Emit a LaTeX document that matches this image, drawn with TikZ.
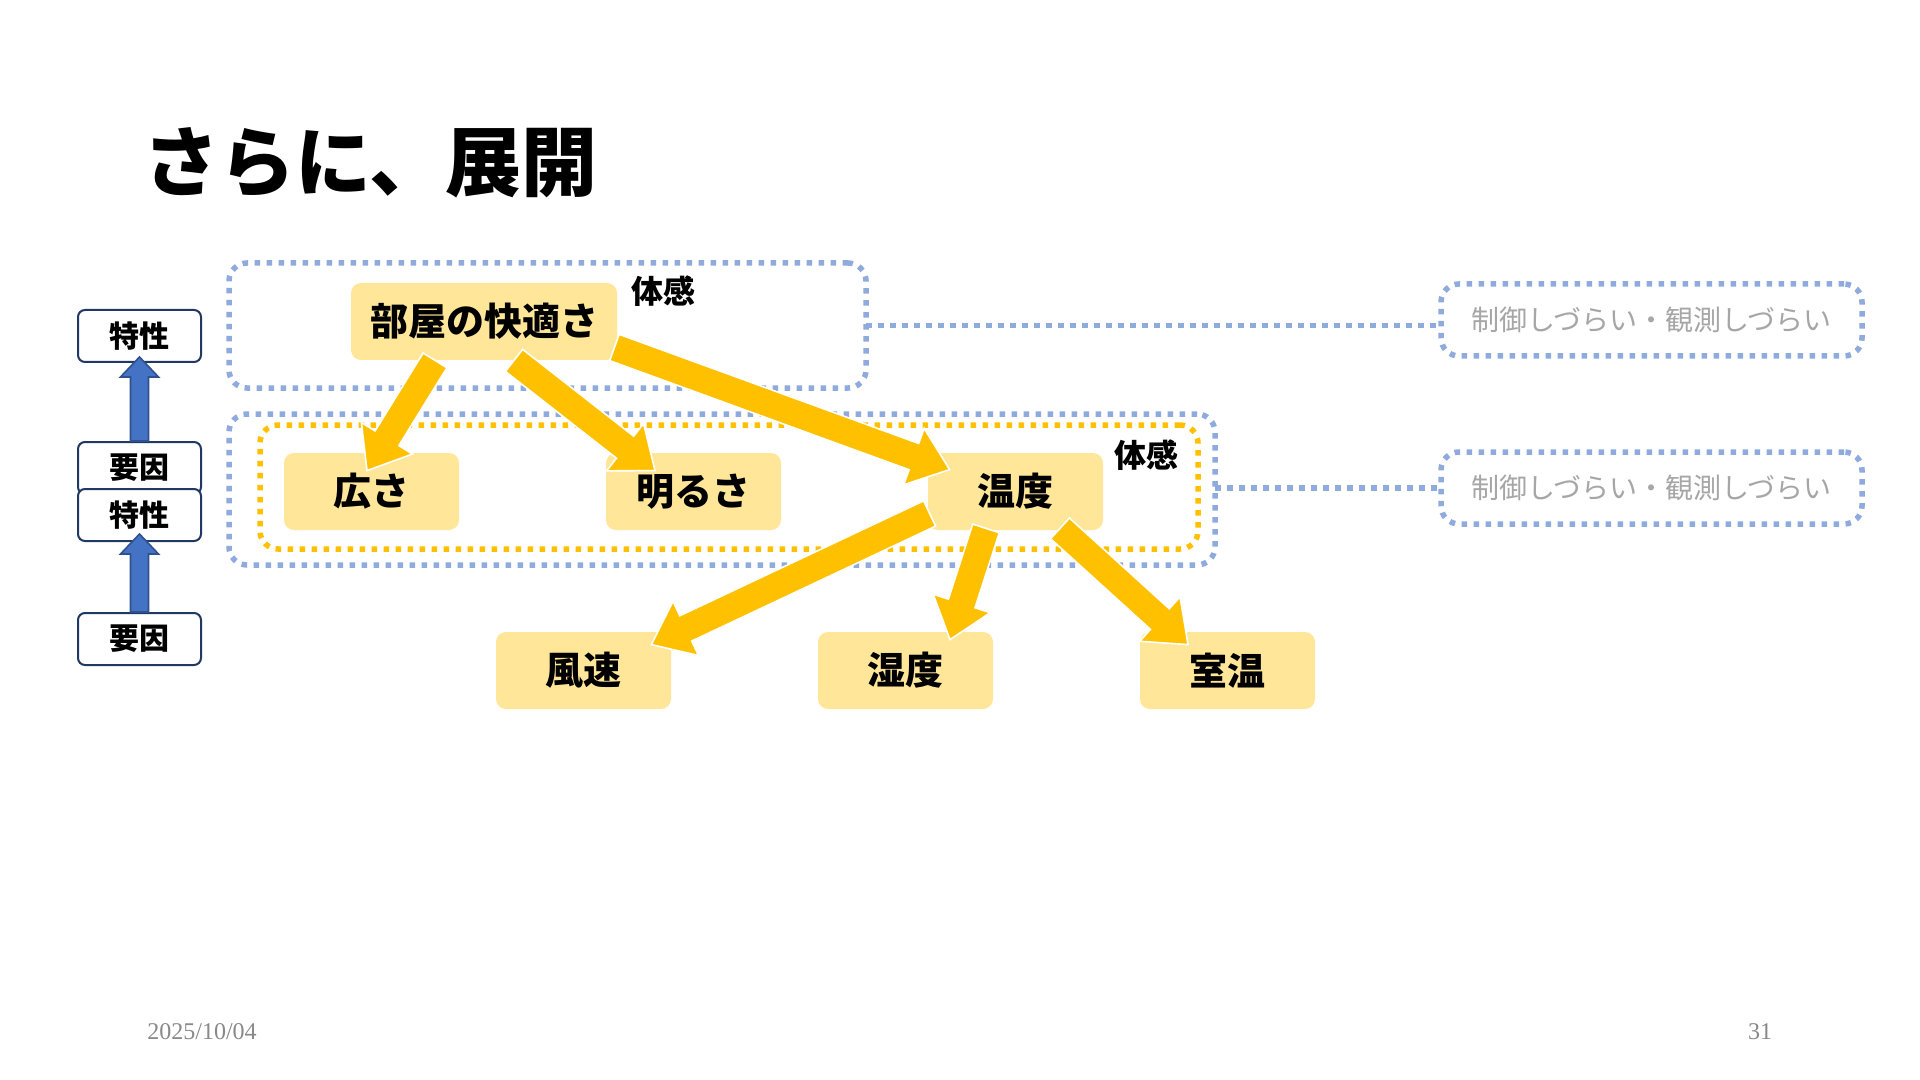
\documentclass[tikz,border=0pt]{standalone}
\usepackage{fontspec}
\setmainfont{Liberation Serif}
\newfontfamily\jp{Noto Sans CJK JP}
\usetikzlibrary{calc,arrows.meta}
\definecolor{yel}{HTML}{FFE699}
\definecolor{ora}{HTML}{FFC000}
\definecolor{dotblue}{HTML}{8FAADC}
\definecolor{arrblue}{HTML}{4472C4}
\definecolor{arrdark}{HTML}{2F528F}
\definecolor{navy}{HTML}{203864}
\definecolor{txtgray}{HTML}{A6A6A6}
\definecolor{footgray}{HTML}{898989}
\newcommand\fatarr[6]{%
  \coordinate (fa-h) at ($(#2)!#5!(#1)$);
  \path[#6] ($(#1)!#3!90:(#2)$) -- ($(fa-h)!#3!90:(#2)$) -- ($(fa-h)!#4!90:(#2)$) -- (#2)
    -- ($(fa-h)!#4!-90:(#2)$) -- ($(fa-h)!#3!-90:(#2)$) -- ($(#1)!#3!-90:(#2)$) -- cycle;
}
\tikzset{
  groupbox/.style={draw=#1, line width=2.75pt, dash pattern=on 2.75pt off 3.25pt, rounded corners=9pt, inner sep=0pt, outer sep=0pt},
  linkline/.style={draw=dotblue, line width=2.75pt, dash pattern=on 2.75pt off 3.25pt},
  factor/.style={fill=yel, rounded corners=5pt, minimum width=87.5pt, minimum height=38.5pt, inner sep=0pt, font=\jp\bfseries\fontsize{19}{22}\selectfont},
  legendbox/.style={draw=navy, fill=white, line width=1pt, rounded corners=3.5pt, minimum width=61.5pt, minimum height=26pt, inner sep=0pt, font=\jp\bfseries\fontsize{15}{17}\selectfont},
  feel/.style={font=\jp\bfseries\fontsize{16}{18}\selectfont, inner sep=0pt},
  graytext/.style={text=txtgray, font=\jp\fontsize{14}{16}\selectfont},
  yarrow/.style={fill=ora, draw=white, line width=0.8pt, line join=miter},
  barrow/.style={fill=arrblue, draw=arrdark, line width=0.8pt, line join=miter},
}
\begin{document}
\begin{tikzpicture}[x=0.5pt, y=-0.5pt]
\useasboundingbox[fill=white] (0,0) rectangle (1920,1080);

% title
\node[anchor=west, inner sep=0pt, font=\jp\bfseries\fontsize{38}{40}\selectfont] (title) at (143,163) {さらに、展開};

% group boxes
\node[groupbox=dotblue, minimum width=318.5pt, minimum height=62.5pt] (grpA) at (547.5,325.5) {};
\node[groupbox=dotblue, minimum width=493pt, minimum height=75.5pt] (grpB) at (722,489.5) {};
\node[groupbox=ora, minimum width=469pt, minimum height=62pt] (grpC) at (729,487) {};

% right notes
\node[groupbox=dotblue, minimum width=210.5pt, minimum height=36pt, graytext] (ctlA) at (1651.5,320) {制御しづらい・観測しづらい};
\node[groupbox=dotblue, minimum width=210.5pt, minimum height=36pt, graytext] (ctlB) at (1651.5,488) {制御しづらい・観測しづらい};
\draw[linkline] (grpA.east) -- (grpA.east -| ctlA.west);
\draw[linkline] (grpB.east |- ctlB.west) -- (ctlB.west);

% labels
\node[feel] (feelA) at (663,291) {体感};
\node[feel] (feelB) at (1146,455) {体感};

% factor nodes
\node[factor, minimum width=133pt] (room) at (484,321.5) {部屋の快適さ};
\node[factor] (hiro) at (371.5,491.5) {広さ};
\node[factor] (akaru) at (693.5,491.5) {明るさ};
\node[factor] (ondo) at (1015.5,491.5) {温度};
\node[factor] (fuu) at (583.5,670.5) {風速};
\node[factor] (shitsu) at (905.5,670.5) {湿度};
\node[factor] (shitsuon) at (1227.5,670.5) {室温};

% arrow end points
\coordinate (a1s) at ($(room.south)+(-49,0)$);
\coordinate (a1t) at ($(hiro.north)+(-4.5,18)$);
\coordinate (a2s) at ($(room.south)+(30,0)$);
\coordinate (a2t) at ($(akaru.north)+(-38.5,18)$);
\coordinate (a3s) at ($(room.east)+(-3,26)$);
\coordinate (a3t) at ($(ondo.north west)+(22,17)$);
\coordinate (a4s) at ($(ondo.west)+(2,22)$);
\coordinate (a4t) at ($(fuu.north east)+(-20,13)$);
\coordinate (a5s) at ($(ondo.south)+(-29.5,-2)$);
\coordinate (a5t) at ($(shitsu.north)+(44.5,8)$);
\coordinate (a6s) at ($(ondo.south)+(44.5,-2)$);
\coordinate (a6t) at ($(shitsuon.north)+(-39.5,13)$);

\fatarr{a1s}{a1t}{7pt}{15pt}{19pt}{yarrow}
\fatarr{a2s}{a2t}{7pt}{15pt}{19pt}{yarrow}
\fatarr{a3s}{a3t}{7pt}{15pt}{19pt}{yarrow}
\fatarr{a4s}{a4t}{7pt}{15pt}{19pt}{yarrow}
\fatarr{a5s}{a5t}{7pt}{15pt}{19pt}{yarrow}
\fatarr{a6s}{a6t}{7pt}{15pt}{19pt}{yarrow}

% legend
\node[legendbox] (tok1) at (139.5,336) {特性};
\node[legendbox] (yo1) at (139.5,468) {要因};
\node[legendbox] (tok2) at (139.5,515) {特性};
\node[legendbox] (yo2) at (139.5,639) {要因};
\coordinate (b1t) at ($(tok1.south)+(0,-6)$);
\coordinate (b2t) at ($(tok2.south)+(0,-8)$);
\fatarr{yo1.north}{b1t}{4.5pt}{9.5pt}{10pt}{barrow}
\fatarr{yo2.north}{b2t}{4.5pt}{9.5pt}{10pt}{barrow}

% footer
\node[anchor=west, inner sep=0pt, text=footgray, font=\fontsize{12}{14}\selectfont] (date) at (147,1032) {2025/10/04};
\node[inner sep=0pt, text=footgray, font=\fontsize{12}{14}\selectfont] (page) at (1760,1032) {31};
\end{tikzpicture}
\end{document}
